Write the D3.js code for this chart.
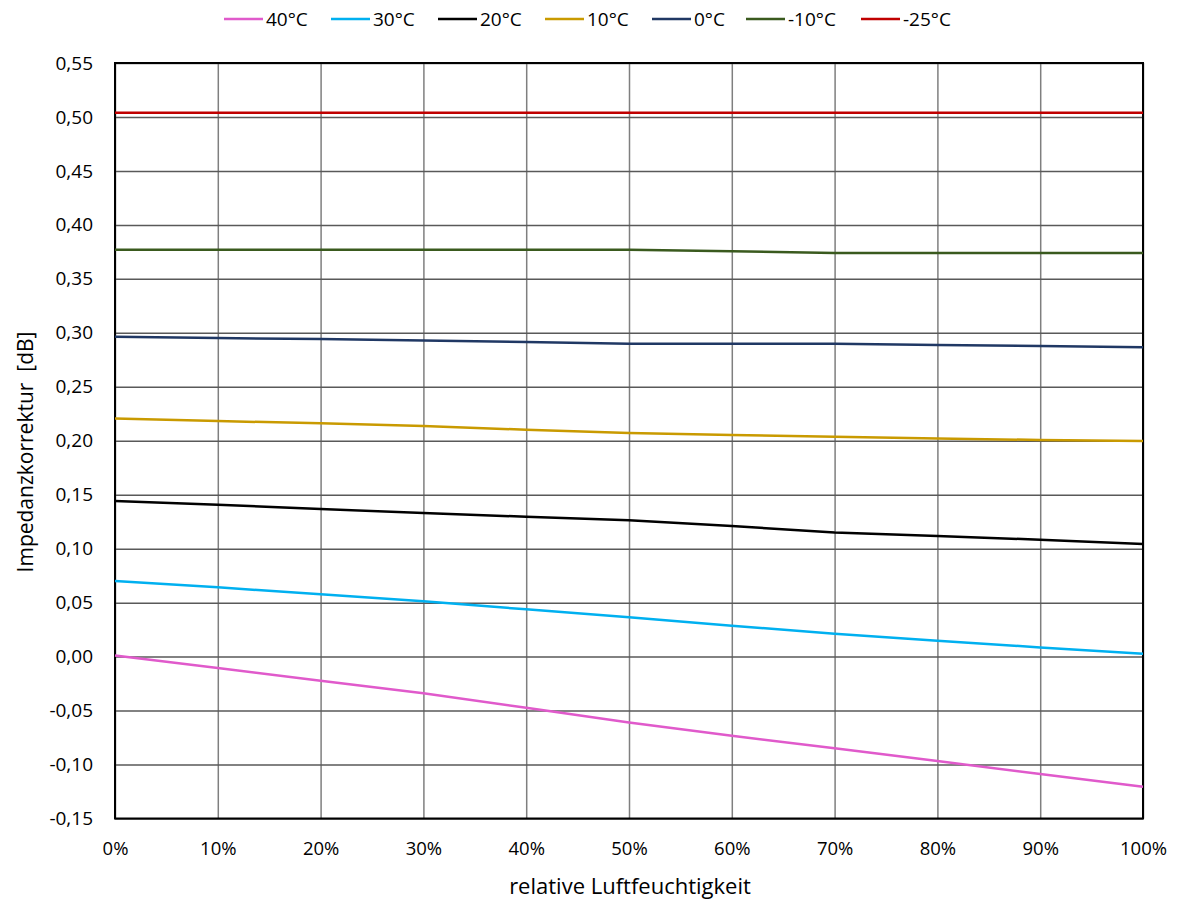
<!DOCTYPE html>
<html>
<head>
<meta charset="utf-8">
<script src="https://cdn.jsdelivr.net/npm/d3@7"></script>
<style>
  html, body { margin: 0; padding: 0; background: #fff; }
  svg { display: block; font-family: "Open Sans", sans-serif; }
</style>
</head>
<body>
<svg id="chart" width="1180" height="904"></svg>
<script>
const humidity = [0, 10, 20, 30, 40, 50, 60, 70, 80, 90, 100];
const seriesNames = ["40°C", "30°C", "20°C", "10°C", "0°C", "-10°C", "-25°C"];
const seriesColors = ["#E05ACB", "#00B0F0", "#000000", "#C99A00", "#203864", "#3A5A1E", "#C00000"];
const t40  = [0.001, -0.0106, -0.0224, -0.034, -0.0474, -0.0611, -0.0733, -0.085, -0.0968, -0.1088, -0.1206];
const t30  = [0.070, 0.0642, 0.0577, 0.0512, 0.0438, 0.0364, 0.0286, 0.0212, 0.0147, 0.0085, 0.0027];
const t20  = [0.1441, 0.1407, 0.1367, 0.133, 0.1296, 0.1263, 0.121, 0.1151, 0.1117, 0.1083, 0.1043];
const t10  = [0.2207, 0.2183, 0.2161, 0.2136, 0.2102, 0.2071, 0.2053, 0.2037, 0.2022, 0.2007, 0.1997];
const t0   = [0.2964, 0.2952, 0.2942, 0.293, 0.2915, 0.2899, 0.2899, 0.2899, 0.2887, 0.2877, 0.2866];
const tm10 = [0.377, 0.377, 0.377, 0.377, 0.377, 0.377, 0.3755, 0.374, 0.374, 0.374, 0.374];
const tm25 = [0.5039, 0.5039, 0.5039, 0.5039, 0.5039, 0.5039, 0.5039, 0.5039, 0.5039, 0.5039, 0.5039];
const seriesValues = [t40, t30, t20, t10, t0, tm10, tm25];
const yTicks = [-0.15, -0.10, -0.05, 0.00, 0.05, 0.10, 0.15, 0.20, 0.25, 0.30, 0.35, 0.40, 0.45, 0.50, 0.55];
const xTicks = [0, 10, 20, 30, 40, 50, 60, 70, 80, 90, 100];
const xTitle = "relative Luftfeuchtigkeit";
const yTitle = "Impedanzkorrektur\u00A0\u00A0[dB]";

(function () {
const svg = d3.select("#chart");
const pL = 115, pR = 1143, pT = 63, pB = 818.5;
const x = d3.scaleLinear().domain([0, 100]).range([pL, pR]);
const y = d3.scaleLinear().domain([-0.15, 0.55]).range([pB, pT]);
const loc = d3.formatLocale({decimal: ",", thousands: ".", grouping: [3], currency: ["", "€"], minus: "-"});
const fmt = loc.format(".2f");
const FF = "'Open Sans', sans-serif";

// gridlines
const gx = svg.append("g").attr("transform", `translate(0,${pB})`)
  .call(d3.axisBottom(x).tickValues(xTicks).tickSize(-(pB - pT)).tickFormat(""));
gx.select(".domain").remove();
gx.selectAll("line").attr("stroke", "#7f7f7f").attr("stroke-width", 1.5);
const gy = svg.append("g").attr("transform", `translate(${pL},0)`)
  .call(d3.axisLeft(y).tickValues(yTicks).tickSize(-(pR - pL)).tickFormat(""));
gy.select(".domain").remove();
gy.selectAll("line").attr("stroke", "#595959").attr("stroke-width", 1.5);

// border
svg.append("rect").attr("x", pL).attr("y", pT).attr("width", pR - pL).attr("height", pB - pT)
  .attr("fill", "none").attr("stroke", "#000").attr("stroke-width", 2);

// tick labels
const yl = svg.append("g").attr("transform", `translate(${pL},0)`)
  .call(d3.axisLeft(y).tickValues(yTicks).tickSize(0).tickPadding(22).tickFormat(fmt));
yl.select(".domain").remove();
yl.selectAll("text").attr("font-size", 19).attr("fill", "#000").attr("font-family", FF);
const xl = svg.append("g").attr("transform", `translate(0,${pB})`)
  .call(d3.axisBottom(x).tickValues(xTicks).tickSize(0).tickPadding(23).tickFormat(d => d + "%"));
xl.select(".domain").remove();
xl.selectAll("text").attr("font-size", 18.5).attr("fill", "#000").attr("font-family", FF);

// lines
const line = d3.line().x((d, i) => x(humidity[i])).y(d => y(d));
seriesValues.forEach((vals, i) => {
  svg.append("path").datum(vals).attr("d", line).attr("fill", "none")
    .attr("stroke", seriesColors[i]).attr("stroke-width", 2.5).attr("stroke-linejoin", "round");
});

// titles
svg.append("text").attr("x", 630).attr("y", 894).attr("text-anchor", "middle")
  .attr("font-size", 22).attr("fill", "#000").text(xTitle);
svg.append("text").attr("transform", `translate(33,452) rotate(-90)`)
  .attr("text-anchor", "middle").attr("font-size", 21).attr("fill", "#000").text(yTitle);

// legend
const legX = [224, 331, 438, 545, 652, 746, 861];
const lg = svg.append("g");
seriesNames.forEach((n, i) => {
  lg.append("line").attr("x1", legX[i]).attr("x2", legX[i] + 39).attr("y1", 19).attr("y2", 19)
    .attr("stroke", seriesColors[i]).attr("stroke-width", 2.5);
  lg.append("text").attr("x", legX[i] + 42).attr("y", 26).attr("font-size", 19).attr("fill", "#000").text(n);
});
})();
</script>
</body>
</html>
